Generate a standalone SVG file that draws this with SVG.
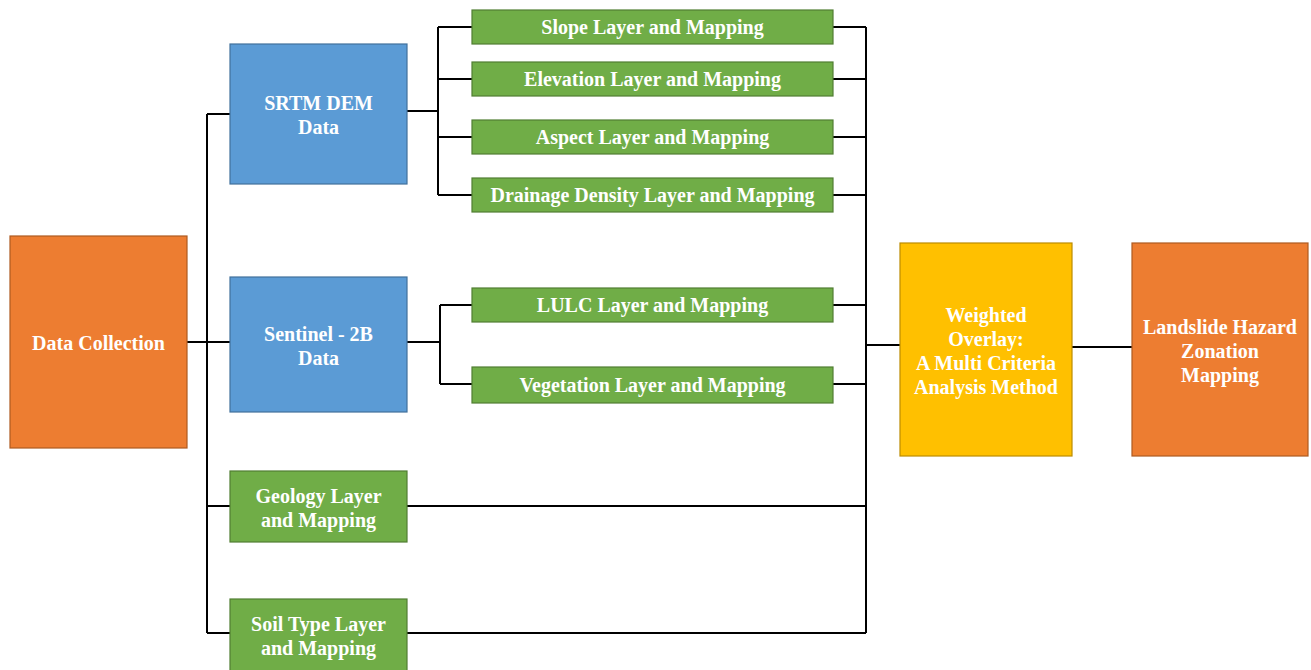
<svg xmlns="http://www.w3.org/2000/svg" width="1311" height="670" viewBox="0 0 1311 670">
<style>
.t{font-family:"Liberation Serif","Times New Roman",serif;font-weight:bold;font-size:20px;fill:#fff;text-anchor:middle;dominant-baseline:central}
.or{fill:#ED7D31;stroke:#AE5A21;stroke-width:1.2}
.bl{fill:#5B9BD5;stroke:#41719C;stroke-width:1.2}
.gr{fill:#70AD47;stroke:#507E32;stroke-width:1.2}
.ye{fill:#FFC000;stroke:#BC8C00;stroke-width:1.2}
.c{fill:none;stroke:#000;stroke-width:2}
</style>
<rect width="1311" height="670" fill="#fff"/>
<g id="connectors">
<path class="c" d="M187 342H230M207 114V633M207 114H230M207 506H230M207 633H230"/>
<path class="c" d="M407 111H438M438 27V195M438 27H472M438 79H472M438 137H472M438 195H472"/>
<path class="c" d="M407 342H440M440 305V384M440 305H472M440 384H472"/>
<path class="c" d="M866 27V633M833 27H866M833 79H866M833 137H866M833 195H866M833 305H866M833 384H866M407 506H866M407 633H866M866 345H900"/>
<path class="c" d="M1072 347H1132"/>
</g>
<g id="data-collection"><rect class="or" x="10" y="236" width="177" height="212"/><text class="t" x="98.5" y="343">Data Collection</text></g>
<g id="srtm"><rect class="bl" x="230" y="44" width="177" height="140"/><text class="t" x="318.5" y="103">SRTM DEM</text><text class="t" x="318.5" y="127">Data</text></g>
<g id="sentinel"><rect class="bl" x="230" y="277" width="177" height="135"/><text class="t" x="318.5" y="334">Sentinel - 2B</text><text class="t" x="318.5" y="358">Data</text></g>
<g id="geology"><rect class="gr" x="230" y="471" width="177" height="71"/><text class="t" x="318.5" y="496">Geology Layer</text><text class="t" x="318.5" y="520">and Mapping</text></g>
<g id="soil"><rect class="gr" x="230" y="599" width="177" height="75"/><text class="t" x="318.5" y="624">Soil Type Layer</text><text class="t" x="318.5" y="648">and Mapping</text></g>
<g id="slope"><rect class="gr" x="472" y="10" width="361" height="34"/><text class="t" x="652.5" y="27">Slope Layer and Mapping</text></g>
<g id="elevation"><rect class="gr" x="472" y="62" width="361" height="34"/><text class="t" x="652.5" y="79">Elevation Layer and Mapping</text></g>
<g id="aspect"><rect class="gr" x="472" y="120" width="361" height="34"/><text class="t" x="652.5" y="137">Aspect Layer and Mapping</text></g>
<g id="drainage"><rect class="gr" x="472" y="178" width="361" height="34"/><text class="t" x="652.5" y="195">Drainage Density Layer and Mapping</text></g>
<g id="lulc"><rect class="gr" x="472" y="288" width="361" height="34"/><text class="t" x="652.5" y="305">LULC Layer and Mapping</text></g>
<g id="vegetation"><rect class="gr" x="472" y="367" width="361" height="36"/><text class="t" x="652.5" y="385">Vegetation Layer and Mapping</text></g>
<g id="weighted-overlay"><rect class="ye" x="900" y="243" width="172" height="213"/><text class="t" x="986" y="315">Weighted</text><text class="t" x="986" y="339">Overlay:</text><text class="t" x="986" y="363">A Multi Criteria</text><text class="t" x="986" y="387">Analysis Method</text></g>
<g id="landslide"><rect class="or" x="1132" y="243" width="176" height="213"/><text class="t" x="1220" y="327">Landslide Hazard</text><text class="t" x="1220" y="351">Zonation</text><text class="t" x="1220" y="375">Mapping</text></g>
</svg>
